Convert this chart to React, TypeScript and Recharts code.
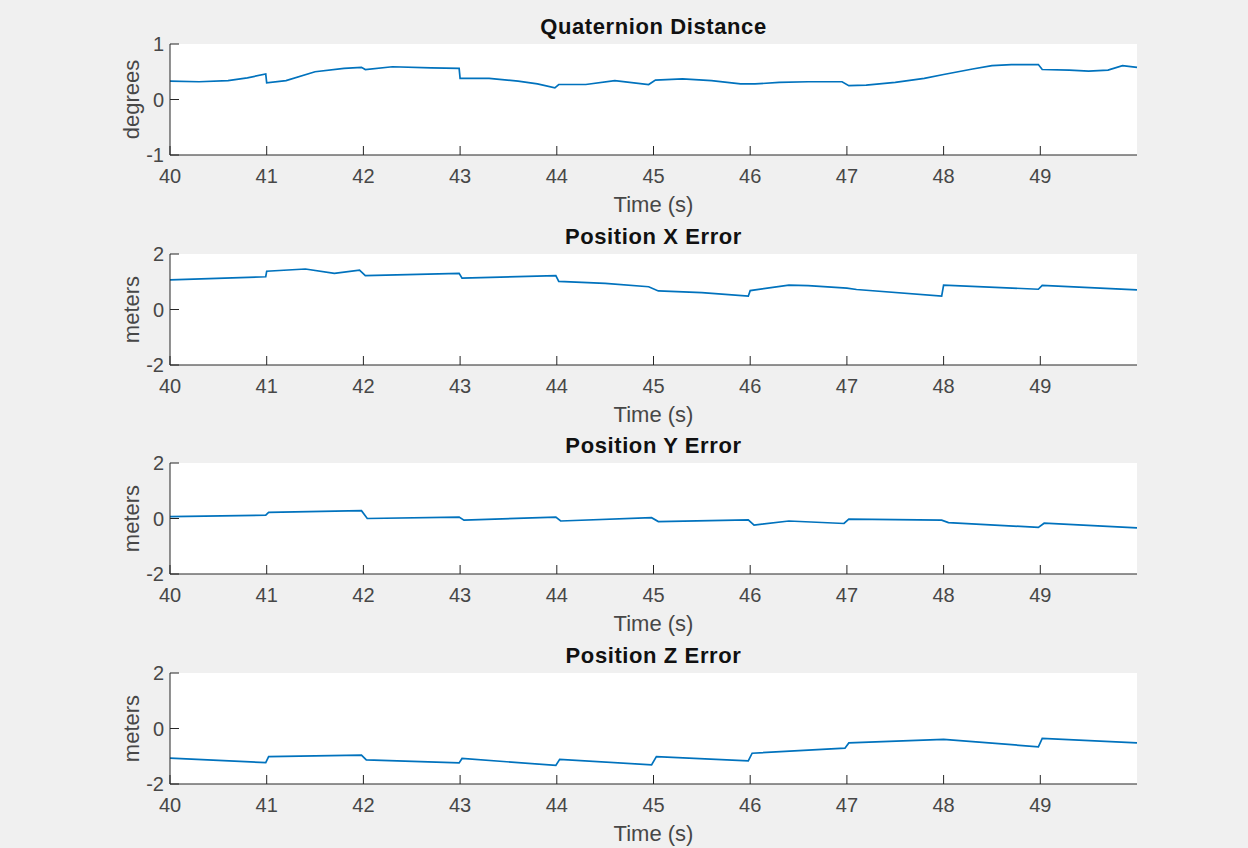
import { LineChart, Line, XAxis, YAxis, CartesianGrid, Label } from "recharts";

// time stamps (s) and values
const quatTime = [40, 40.3, 40.6, 40.8, 40.99, 41.0, 41.2, 41.5, 41.8, 41.98, 42.02, 42.3, 42.7, 42.99, 43.0, 43.3, 43.6, 43.8, 43.98, 44.02, 44.3, 44.6, 44.95, 45.02, 45.3, 45.6, 45.9, 46.05, 46.3, 46.6, 46.95, 47.02, 47.2, 47.5, 47.8, 48.0, 48.3, 48.5, 48.7, 48.98, 49.02, 49.3, 49.5, 49.7, 49.85, 50];
const quatDeg = [0.33, 0.32, 0.34, 0.39, 0.46, 0.30, 0.34, 0.50, 0.56, 0.58, 0.54, 0.59, 0.57, 0.56, 0.38, 0.38, 0.33, 0.28, 0.21, 0.27, 0.27, 0.34, 0.27, 0.35, 0.37, 0.34, 0.28, 0.28, 0.31, 0.32, 0.32, 0.25, 0.26, 0.31, 0.38, 0.45, 0.55, 0.61, 0.63, 0.63, 0.54, 0.53, 0.51, 0.53, 0.61, 0.58];

const posXTime = [40, 40.99, 41.0, 41.4, 41.7, 41.96, 42.02, 42.99, 43.02, 43.99, 44.02, 44.5, 44.95, 45.05, 45.5, 45.98, 46.0, 46.4, 46.6, 47.0, 47.1, 47.98, 48.0, 48.98, 49.02, 50];
const posXErr = [1.07, 1.18, 1.38, 1.46, 1.30, 1.42, 1.22, 1.30, 1.13, 1.22, 1.01, 0.94, 0.82, 0.67, 0.61, 0.48, 0.68, 0.88, 0.86, 0.77, 0.72, 0.48, 0.88, 0.73, 0.87, 0.71];

const posYTime = [40, 40.99, 41.02, 41.98, 42.04, 42.99, 43.04, 43.99, 44.04, 44.98, 45.05, 45.98, 46.04, 46.4, 46.97, 47.02, 47.98, 48.05, 48.98, 49.04, 50];
const posYErr = [0.07, 0.12, 0.22, 0.28, 0.0, 0.05, -0.06, 0.05, -0.09, 0.03, -0.11, -0.05, -0.24, -0.09, -0.18, -0.02, -0.06, -0.15, -0.32, -0.17, -0.34];

const posZTime = [40, 40.99, 41.02, 41.98, 42.03, 42.99, 43.02, 43.99, 44.03, 44.98, 45.03, 45.98, 46.02, 46.98, 47.02, 48.0, 48.98, 49.02, 50];
const posZErr = [-1.07, -1.23, -1.01, -0.96, -1.13, -1.24, -1.08, -1.33, -1.11, -1.31, -1.01, -1.17, -0.89, -0.71, -0.52, -0.39, -0.66, -0.36, -0.52];

const timeTicks = [40, 41, 42, 43, 44, 45, 46, 47, 48, 49];
const degTicks = [-1, 0, 1];
const meterTicks = [-2, 0, 2];

const FONT = '"Liberation Sans", Arial, Helvetica, sans-serif';
const AXIS = "#262626";
const TICK = "#474747";
const LINE = "#0072BD";

const PLOT_LEFT = 170;
const PLOT_RIGHT = 1137;

function Panel({
  title,
  yLabel,
  time,
  values,
  yTicks,
  plotTop,
}: {
  title: string;
  yLabel: string;
  time: number[];
  values: number[];
  yTicks: number[];
  plotTop: number;
}) {
  const data = time.map((t, i) => ({ t, v: values[i] }));
  const yDomain = [yTicks[0], yTicks[yTicks.length - 1]];
  return (
    <>
      <div
        style={{
          position: "absolute",
          left: PLOT_LEFT,
          width: PLOT_RIGHT - PLOT_LEFT,
          top: plotTop - 28,
          textAlign: "center",
          fontFamily: FONT,
          fontWeight: "bold",
          fontSize: 22,
          lineHeight: "22px",
          letterSpacing: 0.6,
          color: "#111",
        }}
      >
        {title}
      </div>
      <div style={{ position: "absolute", left: 0, top: plotTop - 10 }}>
        <LineChart
          width={1248}
          height={200}
          data={data}
          margin={{ top: 10, right: 1248 - PLOT_RIGHT, bottom: 0, left: 92 }}
        >
          <CartesianGrid fill="#ffffff" stroke="none" horizontal={false} vertical={false} />
          <XAxis
            dataKey="t"
            type="number"
            domain={[40, 50]}
            ticks={timeTicks}
            interval={0}
            height={79}
            tickSize={-9}
            tickMargin={23}
            axisLine={{ stroke: AXIS }}
            tickLine={{ stroke: AXIS }}
            tick={{ fill: TICK, fontSize: 20, fontFamily: FONT }}
          >
            <Label
              value="Time (s)"
              position="insideBottom"
              offset={22}
              style={{ fill: TICK, fontSize: 22, fontFamily: FONT }}
            />
          </XAxis>
          <YAxis
            type="number"
            domain={yDomain}
            ticks={yTicks}
            interval={0}
            width={78}
            tickSize={-9}
            tickMargin={15}
            axisLine={{ stroke: AXIS }}
            tickLine={{ stroke: AXIS }}
            tick={{ fill: TICK, fontSize: 20, fontFamily: FONT }}
          >
            <Label
              value={yLabel}
              angle={-90}
              position="center"
              style={{ fill: TICK, fontSize: 22, fontFamily: FONT, textAnchor: "middle" }}
            />
          </YAxis>
          <Line
            type="linear"
            dataKey="v"
            stroke={LINE}
            strokeWidth={1.7}
            dot={false}
            activeDot={false}
            isAnimationActive={false}
          />
        </LineChart>
      </div>
    </>
  );
}

export default function App() {
  return (
    <div
      style={{
        position: "absolute",
        left: 0,
        top: 0,
        width: 1248,
        height: 848,
        background: "#f0f0f0",
        overflow: "hidden",
      }}
    >
      <Panel title="Quaternion Distance" yLabel="degrees" time={quatTime} values={quatDeg} yTicks={degTicks} plotTop={44} />
      <Panel title="Position X Error" yLabel="meters" time={posXTime} values={posXErr} yTicks={meterTicks} plotTop={254} />
      <Panel title="Position Y Error" yLabel="meters" time={posYTime} values={posYErr} yTicks={meterTicks} plotTop={463} />
      <Panel title="Position Z Error" yLabel="meters" time={posZTime} values={posZErr} yTicks={meterTicks} plotTop={673} />
    </div>
  );
}
